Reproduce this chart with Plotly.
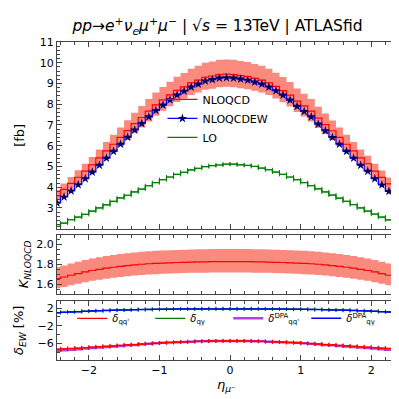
import plotly.graph_objects as go

# ---------------- data ----------------
eta = [-2.45, -2.35, -2.25, -2.15, -2.05, -1.95, -1.85, -1.75, -1.65, -1.55,
       -1.45, -1.35, -1.25, -1.15, -1.05, -0.95, -0.85, -0.75, -0.65, -0.55,
       -0.45, -0.35, -0.25, -0.15, -0.05, 0.05, 0.15, 0.25, 0.35, 0.45,
       0.55, 0.65, 0.75, 0.85, 0.95, 1.05, 1.15, 1.25, 1.35, 1.45,
       1.55, 1.65, 1.75, 1.85, 1.95, 2.05, 2.15, 2.25, 2.35, 2.45]

nloqcd = [3.59, 3.89, 4.18, 4.48, 4.77, 5.08, 5.41, 5.75, 6.07, 6.40,
          6.73, 7.06, 7.36, 7.67, 7.97, 8.21, 8.45, 8.67, 8.84, 9.03,
          9.16, 9.30, 9.36, 9.43, 9.45, 9.43, 9.38, 9.33, 9.25, 9.16,
          9.03, 8.86, 8.66, 8.44, 8.15, 7.92, 7.67, 7.33, 7.02, 6.72,
          6.40, 6.07, 5.75, 5.41, 5.13, 4.77, 4.47, 4.16, 3.83, 3.57]
nloqcd_up = [3.86, 4.18, 4.49, 4.82, 5.13, 5.46, 5.82, 6.18, 6.53, 6.88,
             7.23, 7.59, 7.91, 8.25, 8.57, 8.83, 9.08, 9.32, 9.50, 9.71,
             9.85, 10.00, 10.06, 10.14, 10.16, 10.14, 10.08, 10.03, 9.94, 9.85,
             9.71, 9.52, 9.31, 9.07, 8.76, 8.51, 8.25, 7.88, 7.55, 7.22,
             6.88, 6.53, 6.18, 5.82, 5.51, 5.13, 4.81, 4.47, 4.12, 3.84]
nloqcd_lo = [3.36, 3.64, 3.91, 4.19, 4.46, 4.75, 5.06, 5.38, 5.68, 5.98,
             6.29, 6.60, 6.88, 7.17, 7.45, 7.68, 7.90, 8.11, 8.27, 8.44,
             8.56, 8.70, 8.75, 8.82, 8.84, 8.82, 8.77, 8.72, 8.65, 8.56,
             8.44, 8.28, 8.10, 7.89, 7.62, 7.41, 7.17, 6.85, 6.56, 6.28,
             5.98, 5.68, 5.38, 5.06, 4.80, 4.46, 4.18, 3.89, 3.58, 3.34]
nloqcdew = [3.24, 3.53, 3.82, 4.12, 4.41, 4.73, 5.06, 5.40, 5.73, 6.07,
            6.41, 6.76, 7.07, 7.39, 7.70, 7.96, 8.21, 8.45, 8.63, 8.83,
            8.97, 9.12, 9.19, 9.26, 9.28, 9.26, 9.21, 9.16, 9.07, 8.97,
            8.83, 8.65, 8.44, 8.20, 7.90, 7.65, 7.39, 7.04, 6.72, 6.40,
            6.07, 5.73, 5.40, 5.06, 4.77, 4.41, 4.11, 3.80, 3.48, 3.22]
lo = [2.11, 2.27, 2.43, 2.56, 2.69, 2.85, 3.00, 3.15, 3.32, 3.48,
      3.61, 3.77, 3.91, 4.07, 4.22, 4.36, 4.49, 4.62, 4.72, 4.83,
      4.91, 4.99, 5.04, 5.07, 5.11, 5.11, 5.08, 5.05, 5.00, 4.92,
      4.84, 4.73, 4.62, 4.49, 4.36, 4.22, 4.07, 3.92, 3.77, 3.62,
      3.47, 3.32, 3.16, 3.00, 2.85, 2.70, 2.56, 2.42, 2.27, 2.11]

k_nlo = [1.657, 1.672, 1.690, 1.707, 1.723, 1.738, 1.750, 1.761, 1.771, 1.780,
         1.788, 1.795, 1.801, 1.806, 1.810, 1.813, 1.816, 1.819, 1.821, 1.823,
         1.825, 1.826, 1.827, 1.827, 1.828, 1.828, 1.827, 1.827, 1.826, 1.825,
         1.823, 1.821, 1.819, 1.816, 1.813, 1.810, 1.806, 1.801, 1.795, 1.788,
         1.780, 1.771, 1.761, 1.750, 1.738, 1.723, 1.707, 1.690, 1.668, 1.652]
k_up = [1.773, 1.789, 1.808, 1.826, 1.844, 1.860, 1.873, 1.884, 1.895, 1.905,
        1.913, 1.921, 1.927, 1.932, 1.937, 1.940, 1.943, 1.946, 1.948, 1.951,
        1.953, 1.954, 1.955, 1.955, 1.956, 1.956, 1.955, 1.955, 1.954, 1.953,
        1.951, 1.948, 1.946, 1.943, 1.940, 1.937, 1.932, 1.927, 1.921, 1.913,
        1.905, 1.895, 1.884, 1.873, 1.860, 1.844, 1.826, 1.808, 1.785, 1.768]
k_lo = [1.558, 1.572, 1.589, 1.605, 1.620, 1.634, 1.645, 1.655, 1.665, 1.673,
        1.681, 1.687, 1.693, 1.698, 1.701, 1.704, 1.707, 1.710, 1.712, 1.714,
        1.716, 1.716, 1.717, 1.717, 1.718, 1.718, 1.717, 1.717, 1.716, 1.716,
        1.714, 1.712, 1.710, 1.707, 1.704, 1.701, 1.698, 1.693, 1.687, 1.681,
        1.673, 1.665, 1.655, 1.645, 1.634, 1.620, 1.605, 1.589, 1.568, 1.553]

d_qq = [-7.32, -7.25, -7.17, -7.08, -6.99, -6.89, -6.79, -6.68, -6.58, -6.48,
        -6.38, -6.28, -6.18, -6.08, -5.99, -5.90, -5.82, -5.75, -5.68, -5.62,
        -5.56, -5.51, -5.48, -5.46, -5.45, -5.45, -5.46, -5.48, -5.51, -5.56,
        -5.62, -5.68, -5.75, -5.82, -5.90, -5.99, -6.08, -6.18, -6.28, -6.38,
        -6.48, -6.58, -6.68, -6.79, -6.89, -6.99, -7.08, -7.17, -7.25, -7.32]
d_qq_dpa = [-7.67, -7.56, -7.45, -7.33, -7.20, -7.08, -6.96, -6.83, -6.71, -6.59,
            -6.47, -6.36, -6.24, -6.11, -6.00, -5.90, -5.82, -5.75, -5.68, -5.62,
            -5.56, -5.51, -5.48, -5.46, -5.45, -5.45, -5.46, -5.48, -5.51, -5.56,
            -5.62, -5.68, -5.75, -5.82, -5.90, -6.00, -6.11, -6.24, -6.36, -6.47,
            -6.59, -6.71, -6.83, -6.96, -7.08, -7.20, -7.33, -7.45, -7.56, -7.67]
d_qa = [1.00, 1.07, 1.15, 1.22, 1.29, 1.36, 1.42, 1.48, 1.53, 1.58,
        1.62, 1.66, 1.69, 1.72, 1.75, 1.77, 1.79, 1.81, 1.82, 1.83,
        1.84, 1.84, 1.85, 1.85, 1.85, 1.85, 1.85, 1.85, 1.84, 1.84,
        1.83, 1.82, 1.81, 1.79, 1.77, 1.75, 1.72, 1.69, 1.66, 1.62,
        1.58, 1.53, 1.48, 1.42, 1.36, 1.29, 1.22, 1.15, 1.07, 1.00]
d_qa_dpa = [0.98, 1.05, 1.13, 1.20, 1.27, 1.34, 1.40, 1.46, 1.51, 1.56,
            1.60, 1.64, 1.67, 1.70, 1.73, 1.75, 1.77, 1.79, 1.80, 1.81,
            1.82, 1.82, 1.83, 1.83, 1.83, 1.83, 1.83, 1.83, 1.82, 1.82,
            1.81, 1.80, 1.79, 1.77, 1.75, 1.73, 1.70, 1.67, 1.64, 1.60,
            1.56, 1.51, 1.46, 1.40, 1.34, 1.27, 1.20, 1.13, 1.05, 0.98]

half_bin = [0.05] * len(eta)

# ---------------- styling ----------------
RED = "#FF0000"
BLUE = "#0000FF"
GREEN = "#008000"
NAVY = "#000066"
PURPLE = "#B040E0"
BAND = "rgba(250,128,114,0.92)"
FONT = "DejaVu Sans"

fig = go.Figure()

# ---- top panel ----
fig.add_trace(go.Scatter(x=eta, y=nloqcd_lo, mode="lines", line=dict(width=0, shape="hvh"),
                         showlegend=False, hoverinfo="skip", xaxis="x", yaxis="y"))
fig.add_trace(go.Scatter(x=eta, y=nloqcd_up, mode="lines", line=dict(width=0, shape="hvh"),
                         fill="tonexty", fillcolor=BAND, showlegend=False, hoverinfo="skip",
                         xaxis="x", yaxis="y"))
fig.add_trace(go.Scatter(x=eta, y=nloqcd, mode="lines", name="NLOQCD",
                         line=dict(color=RED, width=1.2, shape="hvh"),
                         xaxis="x", yaxis="y", legend="legend", legendrank=1))
fig.add_trace(go.Scatter(x=eta, y=nloqcdew, mode="lines+markers", name="NLOQCDEW",
                         line=dict(color=BLUE, width=1.2, shape="hvh"),
                         marker=dict(symbol="star", size=7, color=NAVY, line=dict(width=0)),
                         xaxis="x", yaxis="y", legend="legend", legendrank=2))
fig.add_trace(go.Scatter(x=eta, y=lo, mode="lines", name="LO",
                         line=dict(color=GREEN, width=1.2, shape="hvh"),
                         error_x=dict(type="data", array=half_bin, color=GREEN, thickness=1, width=2),
                         xaxis="x", yaxis="y", legend="legend", legendrank=3))

# ---- middle panel ----
fig.add_trace(go.Scatter(x=eta, y=k_lo, mode="lines", line=dict(width=0, shape="hvh"),
                         showlegend=False, hoverinfo="skip", xaxis="x2", yaxis="y2"))
fig.add_trace(go.Scatter(x=eta, y=k_up, mode="lines", line=dict(width=0, shape="hvh"),
                         fill="tonexty", fillcolor=BAND, showlegend=False, hoverinfo="skip",
                         xaxis="x2", yaxis="y2"))
fig.add_trace(go.Scatter(x=eta, y=k_nlo, mode="lines", line=dict(color=RED, width=1.2, shape="hvh"),
                         showlegend=False, xaxis="x2", yaxis="y2"))

# ---- bottom panel ----
fig.add_trace(go.Scatter(x=eta, y=d_qq_dpa, mode="lines", name="<i>δ</i><sup>DPA</sup><sub>qq'</sub>",
                         line=dict(color=PURPLE, width=2.5, shape="hvh"),
                         xaxis="x3", yaxis="y3", legend="legend2", legendrank=3))
fig.add_trace(go.Scatter(x=eta, y=d_qq, mode="lines", name="<i>δ</i><sub>qq'</sub>",
                         line=dict(color=RED, width=1.2, shape="hvh"),
                         error_x=dict(type="data", array=half_bin, color=RED, thickness=1, width=2),
                         xaxis="x3", yaxis="y3", legend="legend2", legendrank=1))
fig.add_trace(go.Scatter(x=eta, y=d_qa, mode="lines", name="<i>δ</i><sub>qγ</sub>",
                         line=dict(color=GREEN, width=1.2, shape="hvh"),
                         error_x=dict(type="data", array=half_bin, color=GREEN, thickness=1, width=2),
                         xaxis="x3", yaxis="y3", legend="legend2", legendrank=2))
fig.add_trace(go.Scatter(x=eta, y=d_qa_dpa, mode="lines", name="<i>δ</i><sup>DPA</sup><sub>qγ</sub>",
                         line=dict(color=BLUE, width=1.5, shape="hvh"),
                         xaxis="x3", yaxis="y3", legend="legend2", legendrank=4))

AXLINE = "#444444"
common_x = dict(range=[-2.45, 2.35], showline=True, linecolor=AXLINE, linewidth=1.2, mirror="allticks",
                ticks="inside", ticklen=5, tickcolor=AXLINE, tickwidth=1, dtick=1, tick0=0,
                minor=dict(ticks="inside", ticklen=3, dtick=0.2, tickcolor=AXLINE, tickwidth=1),
                showgrid=False, zeroline=False)
common_y = dict(showline=True, linecolor=AXLINE, linewidth=1.2, mirror="allticks",
                ticks="inside", ticklen=5, tickcolor=AXLINE, tickwidth=1,
                showgrid=False, zeroline=False, tickfont=dict(size=11, color="black"))

fig.update_layout(
    width=399, height=399,
    margin=dict(l=42, r=10, t=34, b=47),
    paper_bgcolor="white", plot_bgcolor="white",
    font=dict(family=FONT, size=11, color="black"),
    title=dict(text="<i>pp</i>→<i>e</i><sup>+</sup><i>ν<sub>e</sub>μ</i><sup>+</sup><i>μ</i><sup>−</sup> | √<i>s</i> = 13TeV | ATLASfid",
               x=0.525, xanchor="center", y=0.955, yanchor="middle",
               font=dict(size=15.5, family=FONT, color="black")),
    xaxis=dict(common_x, domain=[0, 1], anchor="y", showticklabels=False),
    xaxis2=dict(common_x, domain=[0, 1], anchor="y2", matches="x", showticklabels=False),
    xaxis3=dict(common_x, domain=[0, 1], anchor="y3", matches="x", showticklabels=True,
                tickfont=dict(size=11, color="black"),
                title=dict(text="<i>η</i><sub><i>μ</i>⁻</sub>", font=dict(size=13), standoff=0)),
    yaxis=dict(common_y, domain=[0.413, 1.0], anchor="x", range=[2.0, 11.0],
               tickvals=[3, 4, 5, 6, 7, 8, 9, 10, 11],
               minor=dict(ticks="inside", ticklen=3, dtick=0.2, tickcolor=AXLINE),
               title=dict(text="[fb]", font=dict(size=13), standoff=12)),
    yaxis2=dict(common_y, domain=[0.2075, 0.394], anchor="x2", range=[1.5, 2.1],
                tickvals=[1.6, 1.8, 2.0], tickformat=".1f",
                minor=dict(ticks="inside", ticklen=3, dtick=0.05, tickcolor=AXLINE),
                title=dict(text="<i>K</i><sub><i>NLOQCD</i></sub>", font=dict(size=13), standoff=4)),
    yaxis3=dict(common_y, domain=[0.0, 0.1865], anchor="x3", range=[-9.8, 3.7],
                tickvals=[-6, -2, 2],
                minor=dict(ticks="inside", ticklen=3, dtick=2, tick0=0, tickcolor=AXLINE),
                title=dict(text="<i>δ<sub>EW</sub></i> [%]", font=dict(size=13), standoff=10)),
    legend=dict(x=0.311, y=0.865, xanchor="left", yanchor="top", bgcolor="rgba(0,0,0,0)",
                font=dict(size=11), itemwidth=30, tracegroupgap=0, traceorder="normal"),
    legend2=dict(orientation="h", x=0.045, y=0.131, xanchor="left", yanchor="middle",
                 bgcolor="rgba(0,0,0,0)", font=dict(size=10), itemwidth=30,
                 entrywidth=33, traceorder="normal"),
)

fig.write_html("out.html")
